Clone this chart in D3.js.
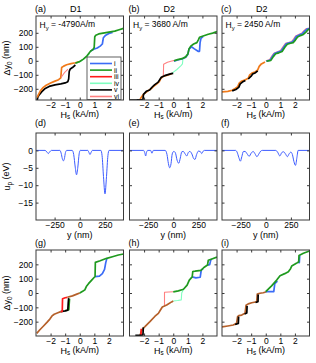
<!DOCTYPE html>
<html>
<head>
<meta charset="utf-8">
<script src="https://cdn.jsdelivr.net/npm/d3@7"></script>
<style>
body { margin: 0; background: #fff; }
text { font-family: "Liberation Sans", Arial, sans-serif; fill: #000; }
</style>
</head>
<body>
<svg width="316" height="363"></svg>
<script>
/* series and colours */
var seriesNames = ["i", "ii", "iii", "iv", "v", "vi"];
var seriesColors = {i: "#3b6cf6", ii: "#1f9a1f", iii: "#ff1a1a", iv: "#80ffc0",
                    v: "#000000", vi: "#ff8080", mix: "#f07a1a", mix3: "#b5602a"};

/* tick values */
var hsTicks = [-2, -1, 0, 1, 2];
var dyTicks = [-200, -100, 0, 100, 200];
var yTicks = [-250, 0, 250];
var upTicks = [-15, -10, -5, 0];

var panelLabels = ["(a)", "(b)", "(c)", "(d)", "(e)", "(f)", "(g)", "(h)", "(i)"];
var deviceNames = ["D1", "D2", "D2"];
var hyValues = ["-4790A/m", "3680 A/m", "2450 A/m"];

/* (a) Hs (kA/m), dy0 (nm) */
var curvesA = [
  {s: "v", pts: [[-2.92,-282],[-2.88,-262],[-2.8,-245],[-2.6,-220],[-2.4,-200],[-2.1,-183],[-1.7,-172],[-1.3,-165],[-1.0,-158],[-0.82,-150],[-0.76,-130],[-0.72,-75],[-0.65,-58],[-0.5,-48],[-0.3,-30]]},
  {s: "mix", pts: [[-2.92,-262],[-2.85,-245],[-2.7,-215],[-2.5,-190],[-2.3,-175],[-2.0,-158],[-1.7,-145],[-1.45,-135],[-1.3,-122],[-1.27,-80],[-1.24,-48],[-1.1,-38],[-0.9,-28],[-0.6,-20],[-0.3,-14],[0,-5]]},
  {s: "vi", pts: [[-1.28,-118],[-1.05,-85],[-0.8,-60]]},
  {s: "iv", pts: [[-0.2,-16],[0.1,-1],[0.3,16],[0.5,34],[0.68,52]]},
  {s: "i", pts: [[0.75,70],[0.95,82],[1.2,92],[1.4,105],[1.55,120],[1.62,165],[1.75,180],[2.0,195],[2.25,203]]},
  {s: "ii", pts: [[-0.3,-18],[0,-5],[0.25,12],[0.5,36],[0.75,70],[0.9,80],[0.99,95],[1.03,172],[1.1,183],[1.3,192],[1.6,198],[2.0,205],[2.4,212],[2.7,222],[3.0,232]]}
];

/* (b) */
var curvesB = [
  {s: "vi", pts: [[-0.68,-108],[-0.66,-25],[-0.4,-10],[-0.1,-1],[0.1,3]]},
  {s: "iv", pts: [[-0.1,-90],[0.25,-62],[0.55,-32],[0.63,-22],[0.66,8]]},
  {s: "mix", pts: [[-2.3,-282],[-2.2,-262],[-2.05,-240],[-1.8,-220],[-1.5,-198],[-1.3,-178],[-1.1,-162],[-0.95,-148],[-0.85,-125],[-0.7,-112],[-0.4,-102],[-0.1,-92]]},
  {s: "v", pts: [[-3.0,-280],[-2.5,-279],[-2.08,-277],[-2.04,-240],[-1.85,-218],[-1.62,-209],[-1.46,-189],[-1.27,-170],[-1.05,-154],[-0.82,-118],[-0.59,-106],[-0.36,-99],[-0.13,-92],[0,-90]]},
  {s: "i", pts: [[0.05,-2],[0.3,6],[0.6,13],[0.85,26],[1.0,46],[1.08,83],[1.25,100],[1.45,85],[1.7,68],[1.8,68],[1.84,130],[1.9,160],[2.05,175]]},
  {s: "ii", pts: [[0.05,0],[0.3,8],[0.6,15],[0.85,28],[1.0,48],[1.08,85],[1.2,105],[1.4,120],[1.62,130],[1.72,150],[1.8,168],[2.05,177],[2.4,190],[2.7,198],[3.0,208]]}
];

/* (c) */
var curvesC = [
  {s: "mix", pts: [[-3.0,-222],[-2.6,-218],[-2.3,-210],[-2.1,-198],[-1.92,-185],[-1.82,-160],[-1.68,-146],[-1.4,-136],[-1.2,-125],[-1.1,-100],[-0.95,-88],[-0.7,-78],[-0.55,-65],[-0.45,-40],[-0.3,-22],[-0.05,-8]]},
  {s: "v", pts: [[-2.3,-215],[-2.05,-205],[-1.85,-190],[-1.75,-165],[-1.6,-152],[-1.4,-140]]},
  {s: "v", pts: [[-1.2,-130],[-1.0,-110],[-0.9,-95],[-0.7,-85],[-0.55,-72]]},
  {s: "vi", pts: [[0.0,0],[0.25,8],[0.4,32],[0.55,54],[0.75,62],[1.0,73],[1.2,103],[1.35,125],[1.55,131],[1.75,136],[1.9,155],[2.05,178],[2.25,188],[2.45,196],[2.6,214],[2.75,228],[2.9,233]]},
  {s: "i", pts: [[0.05,-2],[0.3,5],[0.45,30],[0.6,52],[0.8,60],[1.05,70],[1.25,100],[1.4,122],[1.6,128],[1.8,133],[1.95,150],[2.1,175],[2.3,185],[2.5,192],[2.65,210],[2.8,225],[3.0,233]]},
  {s: "ii", pts: [[0.05,-3],[0.35,3],[0.52,30],[0.68,50],[0.9,57],[1.12,66],[1.32,98],[1.48,118],[1.7,125],[1.88,130],[2.03,148],[2.18,170],[2.38,180],[2.58,188],[2.75,205],[2.9,222],[3.0,228]]}
];

/* (d)-(f) y (nm), up (eV) */
var potD = [[-435,0],[-345,0],[-328,-0.4],[-313,-0.9],[-298,-0.4],[-282,0],[-198,0],[-185,-0.8],[-173,-2.4],[-163,-3.0],[-153,-2.4],[-142,-0.6],[-130,0],[-75,0],[-60,-1.2],[-45,-4.8],[-32,-7.0],[-19,-4.8],[-6,-1.0],[5,0],[80,0],[90,-0.5],[102,-1.2],[114,-0.5],[125,0],[210,0],[222,-1.5],[236,-7.5],[251,-12.5],[266,-7.5],[280,-1.5],[292,0],[435,0]];
var potE = [[-435,0],[-295,0],[-284,-0.6],[-274,-1.6],[-266,-0.6],[-255,0],[-225,0],[-212,-0.8],[-198,0],[-80,0],[-62,-1.2],[-48,-3.8],[-35,-5.0],[-22,-3.8],[-10,-1.0],[5,-0.3],[20,-0.6],[38,-2.8],[55,-3.7],[70,-2.2],[85,-0.4],[100,-0.3],[118,-1.0],[134,-1.6],[150,-0.6],[165,-0.3],[185,-1.0],[202,-2.3],[216,-2.6],[232,-1.2],[250,-0.2],[268,-0.3],[283,-0.9],[298,-0.2],[310,0],[435,0]];
var potF = [[-435,0],[-300,0],[-285,-0.5],[-268,-2.0],[-252,-3.1],[-238,-1.8],[-222,-0.3],[-205,-0.3],[-185,-1.0],[-165,-1.7],[-145,-0.8],[-125,-0.3],[-108,-0.9],[-88,-1.8],[-68,-1.0],[-50,-0.2],[-35,0],[100,0],[118,-0.5],[140,-1.6],[160,-0.6],[178,-0.4],[196,-1.0],[215,-1.8],[232,-1.0],[250,-0.5],[265,-1.2],[280,-3.2],[296,-4.3],[310,-2.0],[322,0],[435,0]];

/* (g) */
var curvesG = [
  {s: "mix3", pts: [[-2.95,-282],[-2.75,-258],[-2.5,-232],[-2.25,-205],[-2.05,-182],[-1.9,-160],[-1.75,-148],[-1.5,-138],[-1.3,-130]]},
  {s: "ii", pts: [[-1.0,-124],[-0.75,-116],[-0.7,-40]]},
  {s: "v", pts: [[-1.3,-130],[-1.0,-125],[-0.82,-120],[-0.79,-70],[-0.76,-36]]},
  {s: "iii", pts: [[-1.3,-130],[-1.2,-128],[-1.18,-40],[-1.0,-33],[-0.85,-30]]},
  {s: "mix3", pts: [[-0.85,-30],[-0.5,-20],[-0.2,-8],[0,0]]},
  {s: "i", pts: [[1.05,114],[1.35,118],[1.55,135],[1.7,165],[1.78,210],[1.85,238]]},
  {s: "ii", pts: [[0,0],[0.2,12],[0.35,22],[0.45,45],[0.6,65],[0.82,90],[1.0,110],[1.05,115],[1.07,214],[1.4,225],[1.85,242],[2.3,255],[2.65,265],[3.0,272]]}
];

/* (h) */
var curvesH = [
  {s: "vi", pts: [[-0.6,-88],[-0.6,5],[-0.3,7],[0,9]]},
  {s: "iv", pts: [[0,-56],[0.3,-52],[0.55,-48],[0.58,0],[0.7,25]]},
  {s: "mix3", pts: [[-2.28,-300],[-2.2,-270],[-2.05,-245],[-1.94,-235],[-1.6,-200],[-1.25,-162],[-1.02,-142],[-0.9,-122],[-0.75,-98],[-0.45,-84],[-0.11,-62],[0,-56]]},
  {s: "iii", pts: [[-2.3,-298],[-2.21,-292],[-2.2,-250]]},
  {s: "v", pts: [[-2.6,-296],[-2.08,-293],[-2.05,-240]]},
  {s: "i", pts: [[1.3,112],[1.55,106],[1.85,110],[1.92,160],[2.05,170]]},
  {s: "i", pts: [[2.35,195],[2.5,198],[2.57,230],[2.65,236]]},
  {s: "ii", pts: [[0,8],[0.35,15],[0.7,26],[0.95,55],[1.1,90],[1.3,112],[1.34,150],[1.5,152],[1.9,158],[2.1,178],[2.35,195],[2.4,228],[2.6,235],[3.0,250]]}
];

/* (i) */
var curvesI = [
  {s: "mix3", pts: [[-3.0,-237],[-2.6,-230],[-2.23,-223],[-2.0,-212],[-1.93,-165],[-1.85,-158],[-1.65,-154],[-1.42,-142],[-1.35,-86],[-1.2,-76],[-0.96,-68],[-0.62,-61],[-0.58,-8],[-0.4,-2],[-0.17,2],[0.05,9]]},
  {s: "v", pts: [[-2.1,-220],[-1.88,-212],[-1.86,-165]]},
  {s: "v", pts: [[-1.45,-146],[-1.3,-140],[-1.28,-90]]},
  {s: "v", pts: [[-0.7,-66],[-0.53,-60],[-0.52,-10]]},
  {s: "i", pts: [[0,9],[0.3,9],[0.55,10],[0.62,65],[0.8,82]]},
  {s: "i", pts: [[2.2,215],[2.3,212],[2.33,262]]},
  {s: "ii", pts: [[0,9],[0.4,50],[0.75,90],[0.98,121],[1.3,135],[1.55,149],[1.7,170],[1.78,188],[2.1,207],[2.26,218],[2.28,262],[2.58,277],[3.0,293]]}
];

/* layout */
var cols = [[36, 123.5], [129.5, 217], [222, 309.5]];
var rows = [[16, 100], [133, 220], [250, 336]];
var frameColor = "#3a3a3a";

var svg = d3.select("svg");

function sub(t, main, s, rest) {
  t.append("tspan").text(main);
  t.append("tspan").attr("font-size", "0.7em").attr("dy", "0.3em").text(s);
  t.append("tspan").attr("dy", "-0.3em").text(rest);
}

function frame(ci, ri, x, y, xt, yt, showY, xTitle, yTitle) {
  var c = cols[ci], r = rows[ri];
  var g = svg.append("g");
  g.append("g").attr("transform", translate(0, r[1]))
    .call(d3.axisBottom(x).tickValues(xt).tickSize(-2.5).tickPadding(1.5).tickFormat(d3.format("d")))
    .call(styleAxis, true);
  g.append("g").attr("transform", translate(0, r[0]))
    .call(d3.axisTop(x).tickValues(xt).tickSize(-2.5).tickFormat(""))
    .call(styleAxis, false);
  g.append("g").attr("transform", translate(c[0], 0))
    .call(d3.axisLeft(y).tickValues(yt).tickSize(-2.5).tickPadding(3).tickFormat(d3.format("d")))
    .call(styleAxis, showY);
  g.append("g").attr("transform", translate(c[1], 0))
    .call(d3.axisRight(y).tickValues(yt).tickSize(-2.5).tickFormat(""))
    .call(styleAxis, false);
  g.append("rect").attr("x", c[0]).attr("y", r[0])
    .attr("width", c[1] - c[0]).attr("height", r[1] - r[0])
    .attr("fill", "none").attr("stroke", frameColor).attr("stroke-width", 1);

  var xt2 = g.append("text").attr("x", (c[0] + c[1]) / 2).attr("y", r[1] + 17.5)
    .attr("text-anchor", "middle").attr("font-size", 9);
  xTitle(xt2);
  if (showY) {
    var yt2 = g.append("text")
      .attr("transform", translate(10, (r[0] + r[1]) / 2) + " rotate(-90)")
      .attr("text-anchor", "middle").attr("font-size", 9);
    yTitle(yt2);
  }
  return g;
}

function styleAxis(sel, labels) {
  sel.select(".domain").remove();
  sel.selectAll(".tick line").attr("stroke", frameColor);
  sel.selectAll(".tick text").attr("font-size", 8.5).attr("fill", "#000")
    .attr("font-family", "Liberation Sans, Arial, sans-serif");
  if (!labels) sel.selectAll(".tick text").remove();
}

function clipFor(id, ci, ri) {
  svg.append("clipPath").attr("id", id).append("rect")
    .attr("x", cols[ci][0]).attr("y", rows[ri][0])
    .attr("width", cols[ci][1] - cols[ci][0]).attr("height", rows[ri][1] - rows[ri][0]);
  return "url(#" + id + ")";
}

function hsTitle(t) { sub(t, "H", "s", " (kA/m)"); }
function dyTitle(t) { sub(t, "\u0394y", "0", " (nm)"); }

function drawHyst(ci, ri, curves, yDom) {
  var x = d3.scaleLinear().domain([-3, 3]).range(cols[ci]);
  var y = d3.scaleLinear().domain(yDom).range([rows[ri][1], rows[ri][0]]);
  var line = d3.line().x(function(d){ return x(d[0]); }).y(function(d){ return y(d[1]); });
  var lg = svg.append("g").attr("clip-path", clipFor("c" + ci + ri, ci, ri));
  curves.forEach(function(c) {
    var thin = (c.s === "iv" || c.s === "vi");
    lg.append("path").attr("d", line(c.pts)).attr("fill", "none")
      .attr("stroke", seriesColors[c.s]).attr("stroke-width", thin ? 1.1 : 1.7)
      .attr("stroke-linejoin", "round");
  });
  frame(ci, ri, x, y, hsTicks, dyTicks, ci === 0, hsTitle, dyTitle);
}

function drawPot(ci, data) {
  var x = d3.scaleLinear().domain([-435, 435]).range(cols[ci]);
  var y = d3.scaleLinear().domain([-20, 5]).range([rows[1][1], rows[1][0]]);
  var line = d3.line().x(function(d){ return x(d[0]); }).y(function(d){ return y(d[1]); })
    .curve(d3.curveMonotoneX);
  svg.append("path").attr("d", line(data)).attr("fill", "none")
    .attr("stroke", "#3d5cff").attr("stroke-width", 1);
  frame(ci, 1, x, y, yTicks, upTicks, ci === 0,
        function(t){ t.text("y (nm)"); },
        function(t){ sub(t, "u", "p", " (eV)"); });
}

var dyDomTop = [-280, 320];
var dyDomBottom = [-300, 300];

drawHyst(0, 0, curvesA, dyDomTop);
drawHyst(1, 0, curvesB, dyDomTop);
drawHyst(2, 0, curvesC, dyDomTop);
drawPot(0, potD);
drawPot(1, potE);
drawPot(2, potF);
drawHyst(0, 2, curvesG, dyDomBottom);
drawHyst(1, 2, curvesH, dyDomBottom);
drawHyst(2, 2, curvesI, dyDomBottom);

/* panel letters, device names, field values */
var labelY = [11.5, 126, 246];
panelLabels.forEach(function(l, k) {
  var ci = k % 3, ri = Math.floor(k / 3);
  svg.append("text").attr("x", cols[ci][0] - 1).attr("y", labelY[ri])
    .attr("font-size", 9).text(l);
});
deviceNames.forEach(function(n, ci) {
  svg.append("text").attr("x", (cols[ci][0] + cols[ci][1]) / 2 - 4).attr("y", labelY[0])
    .attr("text-anchor", "middle").attr("font-size", 9).text(n);
});
hyValues.forEach(function(v, ci) {
  var t = svg.append("text").attr("x", cols[ci][0] + 3.5).attr("y", 28)
    .attr("font-size", 8.5);
  sub(t, "H", "y", " = " + v);
});

/* legend in (a) */
var leg = svg.append("g");
leg.append("rect").attr("x", 87).attr("y", 57).attr("width", 34).attr("height", 42.5)
  .attr("fill", "#fff").attr("stroke", frameColor).attr("stroke-width", 0.8);
seriesNames.forEach(function(s, k) {
  var yy = 63.5 + k * 6.6;
  leg.append("line").attr("x1", 90).attr("x2", 112).attr("y1", yy).attr("y2", yy)
    .attr("stroke", seriesColors[s]).attr("stroke-width", 1.6);
  leg.append("text").attr("x", 114).attr("y", yy + 2.5).attr("font-size", 7).text(s);
});

function translate(x, y) {
  return "translate(" + x + "," + y + ")";
}
</script>
</body>
</html>
